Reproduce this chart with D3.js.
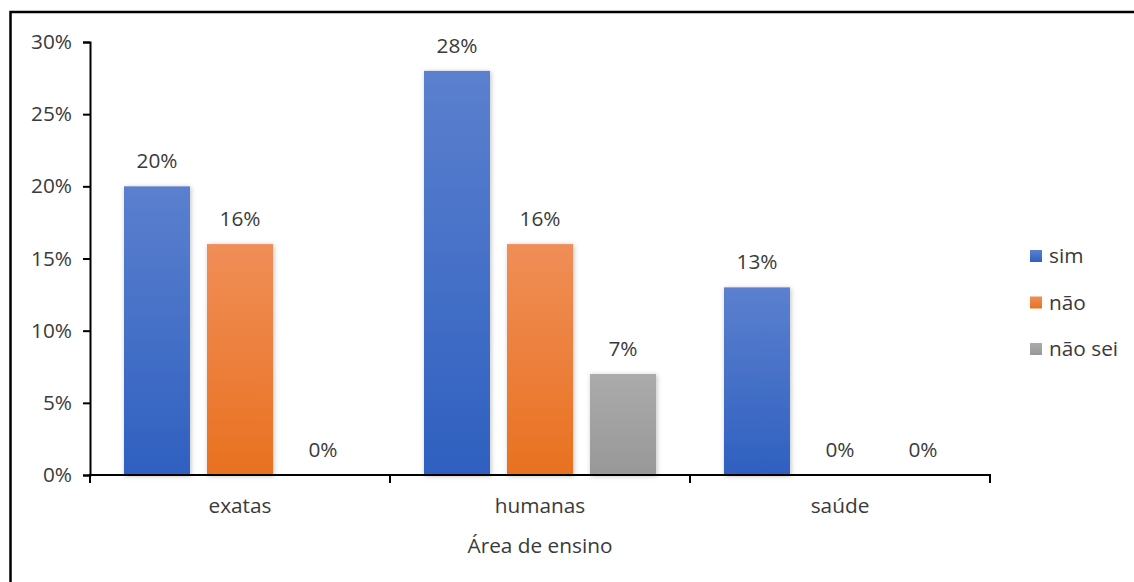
<!DOCTYPE html>
<html>
<head>
<meta charset="utf-8">
<script src="https://cdn.jsdelivr.net/npm/d3@7"></script>
<style>
  html, body { margin: 0; padding: 0; background: #fff; }
  svg { display: block; }
  text { font-family: "Open Sans", sans-serif; fill: #3a3a3a; }
</style>
</head>
<body>
<svg id="chart" width="1134" height="582"></svg>
<script>
// Chart data
const categories = ["exatas", "humanas", "saúde"];
const seriesNames = ["sim", "não", "não sei"];
const simValues = [20, 28, 13];
const naoValues = [16, 16, 0];
const naoSeiValues = [0, 7, 0];
const yTicks = [0, 5, 10, 15, 20, 25, 30];
const xTitle = "Área de ensino";

const seriesValues = [simValues, naoValues, naoSeiValues];
const colorsTop = ["#5B80CE", "#F08E58", "#ABABAB"];
const colorsBottom = ["#2F60C0", "#E8711F", "#989898"];
const FS = 20.8;

const svg = d3.select("#chart");

// outer frame
svg.append("rect")
  .attr("x", 10.5).attr("y", 12)
  .attr("width", 1200).attr("height", 700)
  .attr("fill", "none").attr("stroke", "#000").attr("stroke-width", 2.5);

const defs = svg.append("defs");
seriesNames.forEach((s, i) => {
  const g = defs.append("linearGradient").attr("id", "grad" + i)
    .attr("x1", 0).attr("y1", 0).attr("x2", 0).attr("y2", 1);
  g.append("stop").attr("offset", "0%").attr("stop-color", colorsTop[i]);
  g.append("stop").attr("offset", "100%").attr("stop-color", colorsBottom[i]);
});
const f = defs.append("filter").attr("id", "shadow")
  .attr("x", "-20%").attr("y", "-10%").attr("width", "140%").attr("height", "120%");
f.append("feDropShadow").attr("dx", 1).attr("dy", 1).attr("stdDeviation", 2.5)
  .attr("flood-color", "#000").attr("flood-opacity", 0.25);

const x0 = d3.scaleBand().domain(categories).range([90, 990]).paddingInner(0).paddingOuter(0);
const x1 = d3.scaleBand().domain(seriesNames).range([34, 300 - 34]).paddingInner(0.205).paddingOuter(0);
const y = d3.scaleLinear().domain([0, 30]).range([475, 42]);

// bars and value labels
const groups = svg.append("g").selectAll("g").data(categories).join("g")
  .attr("transform", d => `translate(${x0(d)},0)`);

groups.each(function (cat, ci) {
  const g = d3.select(this);
  seriesNames.forEach((s, si) => {
    const v = seriesValues[si][ci];
    if (v > 0) {
      g.append("rect")
        .attr("x", x1(s)).attr("width", x1.bandwidth())
        .attr("y", y(v)).attr("height", y(0) - y(v))
        .attr("fill", `url(#grad${si})`)
        .attr("filter", "url(#shadow)");
    }
    g.append("text")
      .attr("x", x1(s) + x1.bandwidth() / 2)
      .attr("y", y(v) - 18)
      .attr("text-anchor", "middle")
      .attr("font-size", FS)
      .text(v + "%");
  });
});

// y axis
const yAxis = d3.axisLeft(y).tickValues(yTicks).tickFormat(d => d + "%").tickSize(7).tickPadding(11);
const yg = svg.append("g").attr("transform", "translate(90,0)").call(yAxis);
yg.select(".domain").attr("stroke", "#000").attr("stroke-width", 2);
yg.selectAll(".tick line").attr("stroke", "#000").attr("stroke-width", 2);
yg.selectAll(".tick text").attr("font-size", FS).attr("font-family", "Open Sans").attr("fill", "#3a3a3a");

// x axis with ticks at category boundaries
const xg = svg.append("g").attr("transform", "translate(0,475)");
xg.append("line").attr("x1", 89).attr("x2", 991).attr("stroke", "#000").attr("stroke-width", 2);
const bounds = categories.map(c => x0(c)).concat([x0(categories[categories.length - 1]) + x0.bandwidth()]);
xg.selectAll(".bt").data(bounds).join("line")
  .attr("x1", d => d).attr("x2", d => d).attr("y1", 0).attr("y2", 8)
  .attr("stroke", "#000").attr("stroke-width", 2);
xg.selectAll(".cl").data(categories).join("text")
  .attr("x", d => x0(d) + x0.bandwidth() / 2)
  .attr("y", 38)
  .attr("text-anchor", "middle")
  .attr("font-size", FS)
  .text(d => d);

svg.append("text")
  .attr("x", 540).attr("y", 553)
  .attr("text-anchor", "middle")
  .attr("font-size", FS)
  .text(xTitle);

// legend
const lg = svg.append("g").attr("transform", "translate(1030,250)");
seriesNames.forEach((s, i) => {
  lg.append("rect").attr("x", 0).attr("y", i * 46.5).attr("width", 12).attr("height", 12)
    .attr("fill", `url(#grad${i})`);
  lg.append("text").attr("x", 19).attr("y", i * 46.5 + 13).attr("font-size", FS).text(s);
});
</script>
</body>
</html>
